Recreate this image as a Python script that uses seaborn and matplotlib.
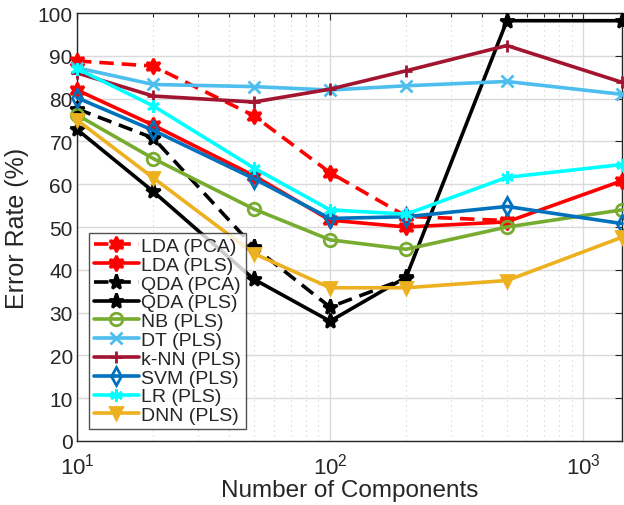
import numpy as np
import pandas as pd
import matplotlib as mpl
import matplotlib.pyplot as plt
import seaborn as sns

# -----------------------
# data
# -----------------------
n_comp = [10, 20, 50, 100, 200, 500, 1425]

lda_pca = [88.8, 87.6, 76.0, 62.7, 52.5, 51.5]
lda_pls = [82.0, 73.8, 62.0, 51.6, 50.0, 51.2, 60.8]
qda_pca = [77.6, 70.8, 45.3, 31.3, 38.0]
qda_pls = [72.8, 58.3, 37.8, 28.0, 38.3, 98.2, 98.2]
nb_pls = [76.2, 66.0, 54.2, 47.0, 44.8, 50.0, 54.0]
dt_pls = [87.2, 83.3, 82.8, 82.0, 83.0, 84.0, 81.0]
knn_pls = [86.0, 80.6, 79.2, 82.2, 86.5, 92.4, 83.8]
svm_pls = [80.2, 72.6, 61.3, 52.0, 52.4, 54.8, 50.8]
lr_pls = [87.0, 78.3, 63.8, 54.0, 53.0, 61.6, 64.6]
dnn_pls = [75.0, 61.5, 43.8, 35.8, 35.8, 37.5, 47.6]

# -----------------------
# style
# -----------------------
sns.set_theme(style="white")
mpl.rcParams["font.family"] = ["Liberation Sans", "DejaVu Sans"]
mpl.rcParams["mathtext.default"] = "regular"
mpl.rcParams["axes.unicode_minus"] = False

hexagram = (6, 1, 0)
asterisk = (6, 2, 0)

series = [
    ("LDA (PCA)", lda_pca, "#FF0000", hexagram, (0, (4, 2.2)), True),
    ("LDA (PLS)", lda_pls, "#FF0000", hexagram, "-", True),
    ("QDA (PCA)", qda_pca, "#000000", "*", (0, (4, 2.2)), True),
    ("QDA (PLS)", qda_pls, "#000000", "*", "-", True),
    ("NB (PLS)", nb_pls, "#77AC30", "o", "-", False),
    ("DT (PLS)", dt_pls, "#4DBEEE", "x", "-", True),
    ("k-NN (PLS)", knn_pls, "#A2142F", "+", "-", True),
    ("SVM (PLS)", svm_pls, "#0072BD", "d", "-", False),
    ("LR (PLS)", lr_pls, "#00FFFF", asterisk, "-", True),
    ("DNN (PLS)", dnn_pls, "#EDB120", "v", "-", True),
]

fig = plt.figure(figsize=(6.24, 5.06), dpi=100)
ax = fig.add_axes([77 / 624, 64 / 506, 545 / 624, 428 / 506])

for name, vals, col, mk, ls, filled in series:
    x = n_comp[:len(vals)]
    ms = 11 if mk in ("*", hexagram) else 9
    sns.lineplot(
        x=x, y=vals, ax=ax, color=col, marker=mk, linestyle=ls,
        linewidth=2.6, markersize=ms, markeredgewidth=2.0,
        markerfacecolor=col if filled else "none", markeredgecolor=col,
        label=name, estimator=None, sort=False, clip_on=False, zorder=3,
    )

ax.set_xscale("log")
ax.set_xlim(10, 1425)
ax.set_ylim(0, 100)
ax.set_yticks(np.arange(0, 101, 10))

ax.grid(True, which="major", color="#DADADA", linewidth=1.0, linestyle="-")
ax.grid(True, which="minor", axis="x", color="#CFCFCF", linewidth=0.8, linestyle=(0, (1, 3.5)))
ax.set_axisbelow(True)

for sp in ax.spines.values():
    sp.set_color("#262626")
    sp.set_linewidth(1.0)
    sp.set_visible(True)
    sp.set_zorder(2.5)

ax.tick_params(which="both", direction="in", top=True, right=True,
               colors="#262626", labelsize=15, length=5, width=0.8)
ax.tick_params(which="minor", length=3)
ax.tick_params(axis="x", which="major", pad=8.5, labelsize=16)
ax.tick_params(axis="y", pad=3)

ax.set_xlabel("Number of Components", fontsize=17.5, color="#262626", labelpad=0)
ax.set_ylabel("Error Rate (%)", fontsize=18, color="#262626", labelpad=6)

leg = ax.legend(loc="lower left", bbox_to_anchor=(0.022, 0.028), fontsize=14,
                frameon=True, fancybox=False, edgecolor="#262626",
                labelspacing=0.06, handlelength=2.3, handletextpad=0.15,
                borderpad=0.25, borderaxespad=0.0)
leg.get_frame().set_linewidth(1.0)
leg.set_zorder(5)

fig.savefig("out.png", dpi=100)
